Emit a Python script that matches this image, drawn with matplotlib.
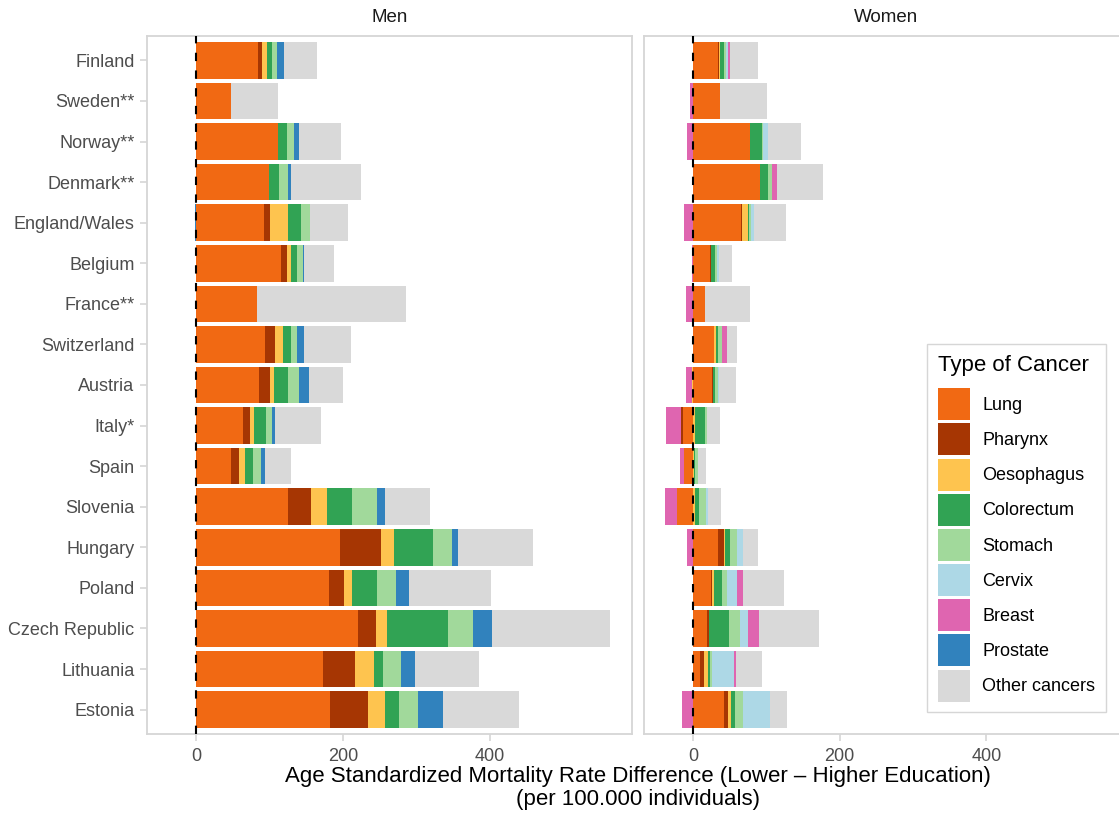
import numpy as np
import matplotlib
matplotlib.use("Agg")
import matplotlib.pyplot as plt
from matplotlib.patches import Patch

plt.rcParams['font.family'] = ['Liberation Sans', 'DejaVu Sans']

countries = ["Finland", "Sweden**", "Norway**", "Denmark**", "England/Wales", "Belgium",
             "France**", "Switzerland", "Austria", "Italy*", "Spain", "Slovenia", "Hungary",
             "Poland", "Czech Republic", "Lithuania", "Estonia"]

cancer_types = ["Lung", "Pharynx", "Oesophagus", "Colorectum", "Stomach", "Cervix",
                "Breast", "Prostate", "Other cancers"]
cancer_colors = ["#F16913", "#A63603", "#FEC44F", "#31A354", "#A1D99B", "#ADD8E6",
                 "#DF65B0", "#3182BD", "#D9D9D9"]

# Men
men_lung = [84, 48, 112, 99, 92, 116, 83, 94, 86, 64, 48, 125, 196, 181, 220, 173, 182]
men_pharynx = [5.4, 0, 0, 0, 8, 8, 0, 13.6, 15, 9.5, 11, 31, 56, 20, 24.5, 43.5, 52]
men_oesophagus = [7, 0, 0, 0, 24.5, 5.4, 0, 11, 5.4, 5.4, 7, 22, 18, 12, 16, 26, 23]
men_colorectum = [7, 0, 12, 14, 19, 8, 0, 11, 19, 16, 11, 34, 53, 33, 83, 12, 20]
men_stomach = [7, 0, 9.5, 12, 12, 8, 0, 8, 15, 8, 12, 35, 26, 26, 34, 24.5, 26]
men_cervix = [0] * 17
men_breast = [0] * 17
men_prostate = [9.5, 0, 7, 4, -1, 1.4, 0, 9.5, 13.6, 4, 5.4, 11, 8, 18, 26, 19, 34]
men_other = [45, 64, 57, 95, 52, 41, 203, 64, 46, 63, 35, 61, 102, 112, 160, 87, 103]

# Women
women_lung = [34, 36.7, 77.6, 91.2, 65.3, 23.1, 16.3, 28.6, 25.9, -13.6, -12.2, -21.8, 34, 24.5, 19, 9.5, 42.2]
women_pharynx = [1.4, 0, 0, 0, 1.4, 1.4, 0, 0, 1.4, -2.7, 0, 0, 8.2, 1.4, 2.7, 5.4, 5.4]
women_oesophagus = [1.4, 0, 0, 0, 8.2, 0, 0, 2.7, -1.4, 2.7, 1.4, 2.7, 1.4, 2.7, 0, 5.4, 4]
women_colorectum = [5.4, 0, 16.3, 10.9, 1.4, 5.4, 0, 2.7, 2.7, 13.6, 1.4, 5.4, 6.8, 10.9, 27.2, 2.7, 5.4]
women_stomach = [2.7, 0, 1.4, 5.4, 2.7, 2.7, 0, 5.4, 4, 2.7, 4, 9.5, 9.5, 6.8, 15, 2.7, 10.9]
women_cervix = [2.7, 0, 6.8, 0, 4, 2.7, 0, 0, 1.4, 0, 0, 2.7, 8.2, 13.6, 10.9, 30, 36.7]
women_breast = [2.7, -4, -8.2, 6.8, -12.2, -1.4, -9.5, 6.8, -8.2, -20.4, -5.4, -16.3, -8.2, 8.2, 15, 2.7, -15]
women_prostate = [0] * 17
women_other = [38.1, 64, 44.9, 62.6, 43.5, 17.7, 61.2, 13.6, 23.1, 17.7, 10.9, 17.7, 20.4, 55.8, 81.6, 35.4, 23.1]

x_ticks = [0, 200, 400]
panel_titles = ["Men", "Women"]

men = [men_lung, men_pharynx, men_oesophagus, men_colorectum, men_stomach,
       men_cervix, men_breast, men_prostate, men_other]
women = [women_lung, women_pharynx, women_oesophagus, women_colorectum, women_stomach,
         women_cervix, women_breast, women_prostate, women_other]

W, H = 1119, 814
fig = plt.figure(figsize=(W / 100, H / 100), dpi=100)

border = "#D6D6D6"
panel_w = 485
top_px, bot_px = 36, 734
lefts = [147, 643.7]

y = np.arange(len(countries))
for k, (series, title) in enumerate(zip([men, women], panel_titles)):
    ax = fig.add_axes([lefts[k] / W, 1 - bot_px / H, panel_w / W, (bot_px - top_px) / H])
    pos = np.zeros(len(countries))
    neg = np.zeros(len(countries))
    for vals, col in zip(series, cancer_colors):
        v = np.array(vals, dtype=float)
        left = np.where(v >= 0, pos, neg)
        ax.barh(y, v, left=left, height=0.9, color=col, linewidth=0, zorder=2)
        pos += np.clip(v, 0, None)
        neg += np.clip(v, None, 0)
    ax.axvline(0, color="black", lw=1.5, ls=(0, (4, 4.5)), zorder=4)
    ax.set_xlim(-67, 594)
    ax.set_ylim(len(countries) - 0.4, -0.6)
    ax.set_xticks(x_ticks)
    ax.set_xticklabels([str(t) for t in x_ticks])
    ax.set_yticks(y)
    if k == 0:
        ax.set_yticklabels(countries)
    else:
        ax.set_yticklabels([])
    ax.tick_params(axis="both", colors=border, labelcolor="#4D4D4D", labelsize=13,
                   width=1.2, length=5, pad=4)
    if k == 1:
        ax.tick_params(axis="y", length=0)
        ax.spines["right"].set_visible(False)
    ax.tick_params(axis="x", pad=5)
    for s in ax.spines.values():
        s.set_color(border)
        s.set_linewidth(1.3)
    ax.set_facecolor("white")
    fig.text((lefts[k] + panel_w / 2) / W, 1 - 18 / H, title, ha="center", va="center",
             fontsize=13.5, color="#1A1A1A")

fig.text(638 / W, 1 - 788 / H,
         "Age Standardized Mortality Rate Difference (Lower \u2013 Higher Education)\n(per 100.000 individuals)",
         ha="center", va="center", fontsize=16, color="black", linespacing=1.1)

handles = [Patch(facecolor=c, edgecolor="none", label=l) for c, l in zip(cancer_colors, cancer_types)]
leg = fig.legend(handles=handles, loc="upper left", bbox_to_anchor=(927 / W, 1 - 344 / H),
                 title="Type of Cancer", title_fontsize=16, fontsize=13,
                 frameon=True, fancybox=False, framealpha=1, edgecolor="#D6D6D6",
                 handlelength=1.8, handleheight=2.35, labelspacing=0.175, handletextpad=0.65,
                 borderpad=0.6, alignment="left", borderaxespad=0)
leg.get_frame().set_linewidth(1.0)
leg._legend_box.sep = 9

fig.savefig("out.png", dpi=100)
